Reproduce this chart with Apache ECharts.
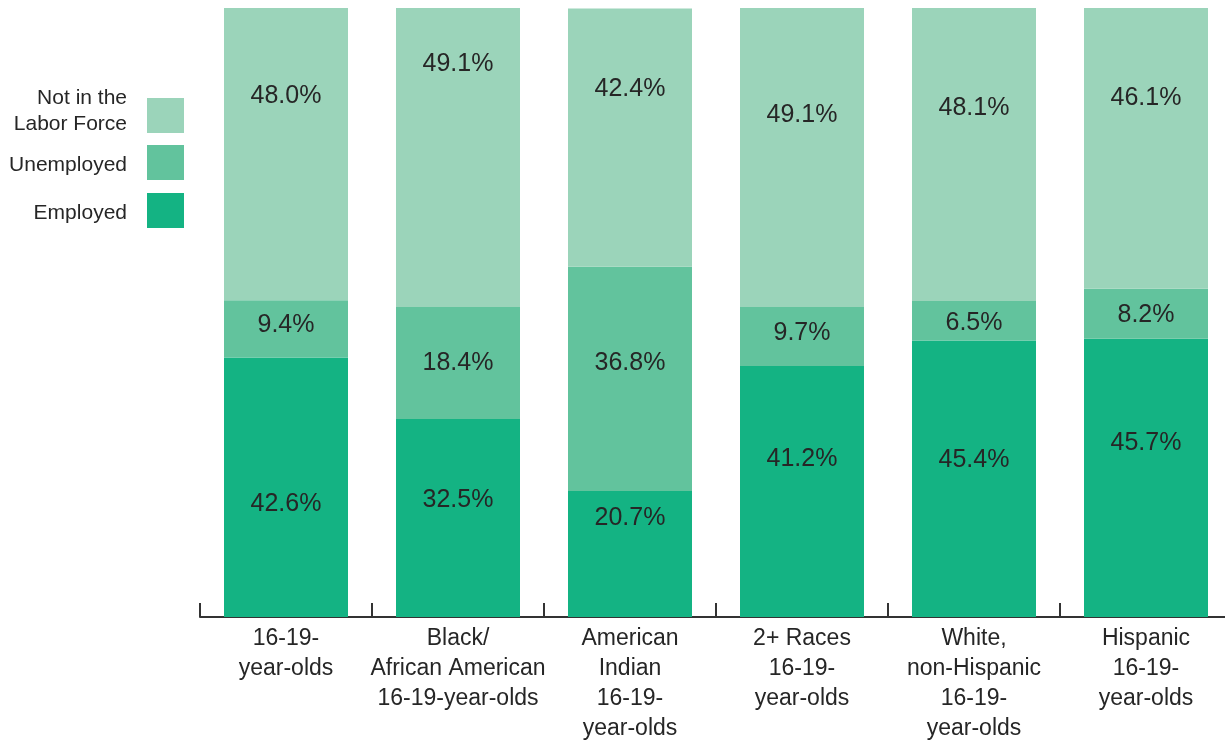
<!DOCTYPE html>
<html>
<head>
<meta charset="utf-8">
<script src="https://cdn.jsdelivr.net/npm/echarts@6/dist/echarts.min.js"></script>
<style>
  html, body { margin: 0; padding: 0; background: #fff; }
  #chart { width: 1225px; height: 743px; }
</style>
</head>
<body>
<div id="chart"></div>
<script>
// Labor force status of 16-19-year-olds by race/ethnicity (percent)
const categories = [
  '16-19-\nyear-olds',
  'Black/\nAfrican American\n16-19-year-olds',
  'American\nIndian\n16-19-\nyear-olds',
  '2+ Races\n16-19-\nyear-olds',
  'White,\nnon-Hispanic\n16-19-\nyear-olds',
  'Hispanic\n16-19-\nyear-olds'
];
const employed     = [42.6, 32.5, 20.7, 41.2, 45.4, 45.7];
const unemployed   = [9.4, 18.4, 36.8, 9.7, 6.5, 8.2];
const notInLabor   = [48.0, 49.1, 42.4, 49.1, 48.1, 46.1];
const seriesNames  = ['Employed', 'Unemployed', 'Not in the\nLabor Force'];

// Vertical nudges (px) of each value label from its segment's middle
const employedNudge   = [17, -18, -36, -32, -19, -35];
const unemployedNudge = [-4, 0, -16, -3, 2, 1];
const notInLaborNudge = [-58, -93, -49, -42, -46, -50];

const FONT = '"Liberation Sans", Arial, sans-serif';
const TEXT = '#262626';

function items(values, nudge) {
  return values.map((v, i) => ({ value: v, label: { offset: [0, nudge[i]] } }));
}

function series(name, values, nudge, color) {
  return {
    name: name,
    type: 'bar',
    stack: 'total',
    barWidth: 124,
    data: items(values, nudge),
    itemStyle: { color: color },
    label: {
      show: true,
      position: 'inside',
      formatter: p => p.value.toFixed(1) + '%',
      color: TEXT,
      fontFamily: FONT,
      fontSize: 25
    },
    emphasis: { disabled: true }
  };
}

// One legend block per entry, text on the left, swatch on the right.
// A thin spacer line above or below the text sets its height against the swatch.
function legendEntry(name, top, spacerAbove, spacerBelow) {
  return {
    orient: 'vertical',
    right: 1041,
    top: top,
    padding: 0,
    align: 'right',
    itemWidth: 37,
    itemHeight: 35,
    icon: 'rect',
    selectedMode: false,
    data: [name],
    formatter: n => {
      const lines = n.split('\n').map(s => '{t|' + s + '}');
      if (spacerAbove) lines.unshift('{up| }');
      if (spacerBelow) lines.push('{dn| }');
      return lines.join('\n');
    },
    textStyle: {
      color: TEXT,
      fontFamily: FONT,
      fontSize: 21,
      padding: [0, 15, 0, 0],
      rich: {
        t:  { fontFamily: FONT, fontSize: 21, lineHeight: 26, color: TEXT },
        up: { fontSize: 4, lineHeight: spacerAbove || 1 },
        dn: { fontSize: 4, lineHeight: spacerBelow || 1 }
      }
    }
  };
}

const chart = echarts.init(document.getElementById('chart'), null, { renderer: 'canvas' });
chart.setOption({
  animation: false,
  backgroundColor: '#ffffff',
  grid: {
    left: 200, width: 1032, top: 8, bottom: 126,
    containLabel: false,
    outerBoundsMode: 'none'
  },
  legend: [
    legendEntry(seriesNames[2], 88, 0, 8),
    legendEntry(seriesNames[1], 145, 6, 0),
    legendEntry(seriesNames[0], 193, 6, 0)
  ],
  xAxis: {
    type: 'category',
    data: categories,
    axisLine: { show: true, lineStyle: { color: '#333', width: 2 } },
    axisTick: { show: true, inside: true, length: 14, lineStyle: { color: '#333', width: 2 } },
    axisLabel: {
      color: TEXT,
      fontFamily: FONT,
      fontSize: 23,
      lineHeight: 30,
      margin: 7,
      interval: 0
    }
  },
  yAxis: {
    type: 'value',
    min: 0,
    max: 100,
    show: false,
    splitLine: { show: false }
  },
  series: [
    series(seriesNames[0], employed, employedNudge, '#14b383'),
    series(seriesNames[1], unemployed, unemployedNudge, '#62c39d'),
    series(seriesNames[2], notInLabor, notInLaborNudge, '#9bd4ba')
  ]
});
</script>
</body>
</html>
